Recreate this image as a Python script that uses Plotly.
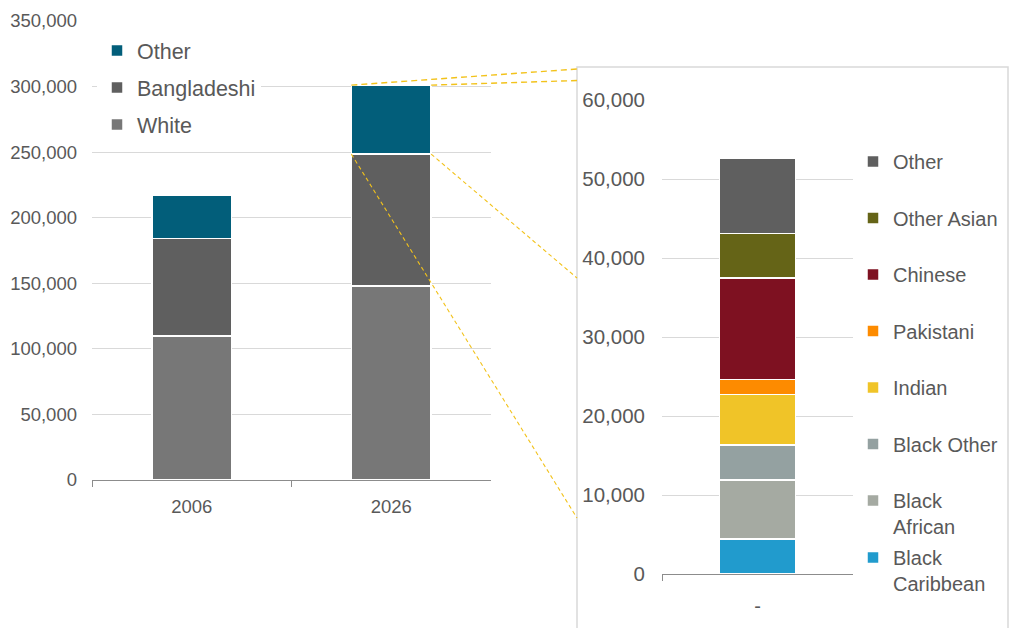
import plotly.graph_objects as go

# ---- data -------------------------------------------------------------
years = ["2006", "2026"]
white = [109700, 147800]
bangladeshi = [74300, 100700]
other_total = [33400, 52600]

left_names = ["White", "Bangladeshi", "Other"]
left_colors = ["#777777", "#5f5f5f", "#025e7a"]

breakdown_groups = ["Black Caribbean", "Black African", "Black Other", "Indian",
                    "Pakistani", "Chinese", "Other Asian", "Other"]
breakdown_labels = ["Black<br>Caribbean", "Black<br>African", "Black Other", "Indian",
                    "Pakistani", "Chinese", "Other Asian", "Other"]
breakdown_values = [4400, 7500, 4400, 6400, 1900, 12900, 5600, 9500]
breakdown_colors = ["#219bcd", "#a5aaa2", "#94a1a1", "#f0c428",
                    "#fd8b00", "#7e1121", "#656417", "#5f5f5f"]
breakdown_category = ["-"]

left_ticks = list(range(0, 350001, 50000))
right_ticks = list(range(0, 60001, 10000))

# ---- layout helpers (page is 1014 x 628 px) ---------------------------
W, H = 1014, 628


def px(x):
    return x / W


def py(y):
    return 1 - y / H


TEXT = "#595959"
FONT = "Liberation Sans, Arial, sans-serif"
GRID = "#d9d9d9"
AXIS = "#8c8c8c"
BAR_W = 0.4

left_xdom = [px(92), px(491)]
left_ydom = [py(480), py(21)]
right_xdom = [px(662), px(853)]
right_ydom = [py(574), py(100)]
left_max = 350000
right_max = 60000

fig = go.Figure()

left_series = [white, bangladeshi, other_total]
n_left = len(left_names)
for i, (name, vals, col) in enumerate(zip(left_names, left_series, left_colors)):
    fig.add_trace(go.Bar(
        x=years, y=vals, name=name, width=BAR_W,
        marker=dict(color=col, line=dict(color="white", width=1.5)),
        xaxis="x", yaxis="y", legend="legend", legendgroup="L" + name,
        legendrank=n_left - i,
    ))

n_right = len(breakdown_labels)
for i, (lab, val, col) in enumerate(zip(breakdown_labels, breakdown_values, breakdown_colors)):
    fig.add_trace(go.Bar(
        x=breakdown_category, y=[val], name=lab, width=BAR_W,
        marker=dict(color=col, line=dict(color="white", width=1.5)),
        xaxis="x2", yaxis="y2",
        legend="legend3" if i == 0 else "legend2",
        legendgroup="R" + breakdown_groups[i],
        legendrank=n_right - i,
    ))

# ---- connector lines from the 2026 bar to the breakdown panel --------
panel = dict(x0=577, x1=1008, y0=67)


def left_to_paper(cat_pos, value):
    xd0, xd1 = left_xdom
    yd0, yd1 = left_ydom
    xp = xd0 + (cat_pos + 0.5) / len(years) * (xd1 - xd0)
    yp = yd0 + value / left_max * (yd1 - yd0)
    return xp, yp


def clipped_end(start, target, x_edge):
    (x0, y0), (x1, y1) = start, target
    t = (x_edge - x0) / (x1 - x0)
    return x_edge, y0 + t * (y1 - y0)


i26 = 1
top26 = white[i26] + bangladeshi[i26] + other_total[i26]
mid26 = white[i26] + bangladeshi[i26]
edge = px(panel["x0"])

connectors = [
    (left_to_paper(i26 - BAR_W / 2, top26), (px(panel["x0"]), py(panel["y0"] + 2)), "6px,4px", 1.4),
    (left_to_paper(i26 + BAR_W / 2, top26), (px(panel["x1"]), py(panel["y0"])), "6px,4px", 1.4),
    (left_to_paper(i26 - BAR_W / 2, mid26), (px(577), py(518)), "4px,3px", 1.1),
    (left_to_paper(i26 + BAR_W / 2, mid26), (px(577), py(278)), "4px,3px", 1.1),
]

shapes = []
for start, target, dash, w in connectors:
    end = clipped_end(start, target, edge)
    shapes.append(dict(type="line", xref="paper", yref="paper",
                       x0=start[0], y0=start[1], x1=end[0], y1=end[1],
                       line=dict(color="#f2c21b", width=w, dash=dash), layer="above"))

shapes.append(dict(type="rect", xref="paper", yref="paper",
                   x0=px(panel["x0"]), x1=px(panel["x1"]), y0=-0.1, y1=py(panel["y0"]),
                   line=dict(color="#d9d9d9", width=1.5), fillcolor="rgba(0,0,0,0)",
                   layer="below"))

xaxis_common = dict(type="category", showline=True, linecolor=AXIS, linewidth=1.3,
                    ticks="outside", tickson="boundaries", ticklen=6, tickcolor=AXIS,
                    tickwidth=1.3, showgrid=False, zeroline=False, fixedrange=True,
                    automargin=False)
yaxis_common = dict(showline=False, zeroline=False, gridcolor=GRID, gridwidth=1,
                    tickformat=",", ticks="", fixedrange=True, automargin=False)

fig.update_layout(
    width=W, height=H, autosize=False,
    margin=dict(l=0, r=0, t=0, b=0, autoexpand=False),
    paper_bgcolor="white", plot_bgcolor="rgba(0,0,0,0)",
    barmode="stack", bargap=0.6,
    font=dict(family=FONT, color=TEXT, size=18),
    xaxis=dict(domain=left_xdom, anchor="y", tickfont=dict(size=18.5, color=TEXT),
               ticklabelstandoff=10, **xaxis_common),
    yaxis=dict(domain=left_ydom, anchor="x", range=[0, left_max], tickvals=left_ticks,
               tickfont=dict(size=18.5, color=TEXT), ticklabelstandoff=14, **yaxis_common),
    xaxis2=dict(domain=right_xdom, anchor="y2", tickfont=dict(size=20, color=TEXT),
                ticklabelstandoff=14, **xaxis_common),
    yaxis2=dict(domain=right_ydom, anchor="x2", range=[0, right_max], tickvals=right_ticks,
                tickfont=dict(size=20.5, color=TEXT), ticklabelstandoff=16, **yaxis_common),
    legend=dict(x=px(97), y=py(30), xanchor="left", yanchor="top",
                bgcolor="white", font=dict(size=21.5, color=TEXT, family=FONT),
                traceorder="grouped", tracegroupgap=6, borderwidth=0),
    legend2=dict(x=px(853), y=py(142), xanchor="left", yanchor="top",
                 bgcolor="rgba(0,0,0,0)", font=dict(size=20, color=TEXT, family=FONT),
                 traceorder="grouped", tracegroupgap=27.5, valign="top",
                 borderwidth=0),
    legend3=dict(x=px(853), y=py(538), xanchor="left", yanchor="top",
                 bgcolor="rgba(0,0,0,0)", font=dict(size=20, color=TEXT, family=FONT),
                 valign="top", borderwidth=0),
    shapes=shapes,
    showlegend=True,
)

fig.write_html("out.html")
